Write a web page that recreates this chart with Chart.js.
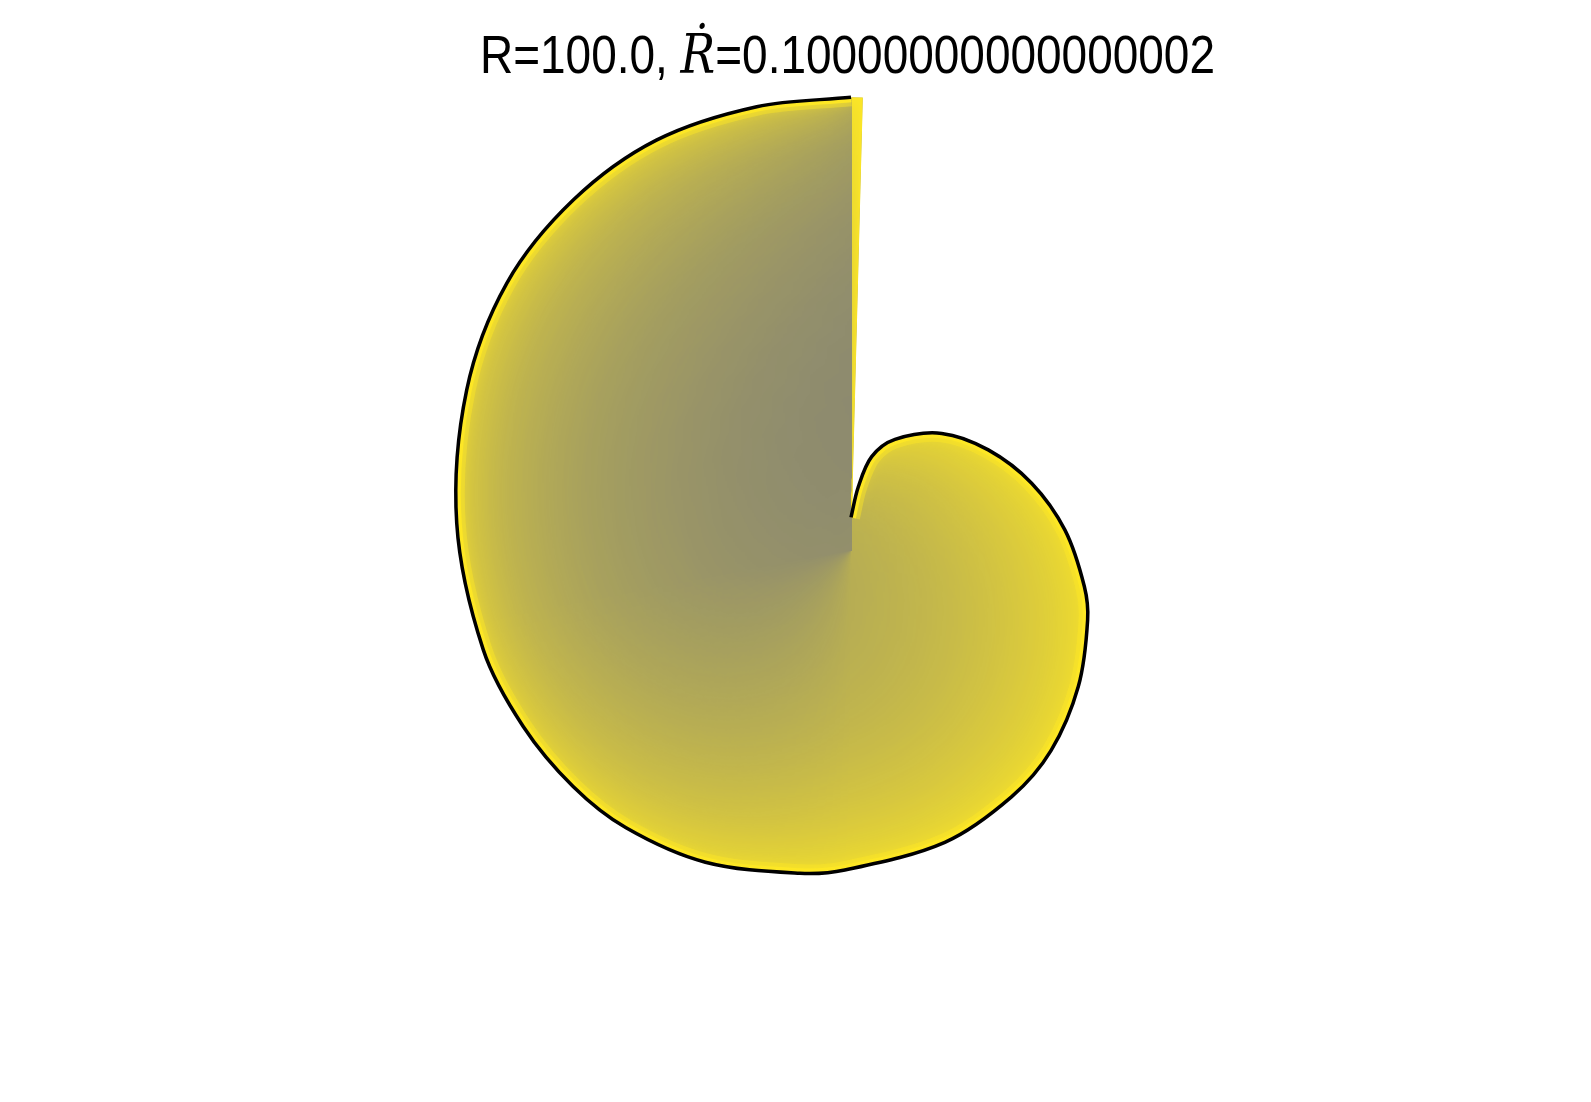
<!DOCTYPE html>
<html>
<head>
<meta charset="utf-8">
<script src="https://cdn.jsdelivr.net/npm/chart.js@4.4.0/dist/chart.umd.min.js"></script>
<style>
html,body{margin:0;padding:0;background:#ffffff;overflow:hidden}
#wrap{position:relative;width:1591px;height:1102px}
</style>
</head>
<body>
<div id="wrap"><canvas id="chart"></canvas></div>
<script>
// ---- data ----
// boundary of the shell: angle in degrees, clockwise from the top, and radius
const boundaryAngle = [0, 6.6, 12.5, 21.7, 37.9, 53.9, 69.7, 84.7, 98.9, 106.5, 121, 135.1, 146.9, 162.2, 181.1, 189, 205, 219, 229.6, 241.7, 254.8, 273.9, 292.6, 307.8, 321.6, 334.6, 348, 360];
const boundaryRadius = [7.27, 14.16, 21.24, 26.44, 32.84, 37.76, 42.80, 47.76, 52.49, 54.84, 58.93, 62.96, 65.42, 68.22, 71.11, 72.73, 76.56, 79.44, 81.09, 82.73, 84.67, 87.82, 92.51, 96.78, 99.29, 100.82, 100.71, 100.6];
// thin wedge past the end of the spiral (degrees beyond 360)
const sliverAngle = [1.5];
// title pieces
const titleParts = ['R=100.0, ', '\u1E58', '=0.10000000000000002'];

// ---- styles ----
const GRAY = [128, 128, 120];
const YELLOW = [253, 231, 37];
const UNIT = 4.5;          // pixels per data unit
const CENTER = {x: 851, y: 550};
const glowLayersA = [[2, 1], [8, 1], [25, 0.6], [60, 0.55], [150, 0.85], [260, 0.7]];
const glowLayersB = [[2, 1], [8, 1], [25, 0.6], [60, 0.5], [150, 0.6], [260, 0.45]];

const points = boundaryAngle.map((a, i) => {
  const t = a * Math.PI / 180;
  return {x: boundaryRadius[i] * Math.sin(t), y: boundaryRadius[i] * Math.cos(t)};
});

const rgb = c => `rgb(${c[0]},${c[1]},${c[2]})`;

const shellFill = {
  id: 'shellFill',
  beforeDatasetsDraw(chart) {
    const ctx = chart.ctx;
    const line = chart.getDatasetMeta(0).dataset;
    const xs = chart.scales.x, ys = chart.scales.y;
    line.updateControlPoints(chart.chartArea, 'x');
    const cx = xs.getPixelForValue(0), cy = ys.getPixelForValue(0);
    const lastR = boundaryRadius[boundaryRadius.length - 1];
    const sl = (360 + sliverAngle[0]) * Math.PI / 180;
    const sx = xs.getPixelForValue(lastR * Math.sin(sl));
    const sy = ys.getPixelForValue(lastR * Math.cos(sl));
    const innerY = ys.getPixelForValue(boundaryRadius[0]);
    const spiral = new Path2D();
    line.path(spiral);
    const shape = new Path2D();
    line.path(shape);
    shape.lineTo(sx, sy);
    shape.lineTo(cx, cy);
    shape.closePath();

    const P = 700;
    const CW = chart.width, CH = chart.height;
    const W = CW + 2 * P, H = CH + 2 * P;
    const newCanvas = (w, h) => { const c = document.createElement('canvas'); c.width = w; c.height = h; return c; };
    function makeSource(excludeQuadrant) {
      const c = newCanvas(W, H);
      const g = c.getContext('2d');
      g.fillStyle = rgb(YELLOW);
      g.fillRect(0, 0, W, H);
      g.globalCompositeOperation = 'destination-out';
      g.translate(P, P);
      g.fill(shape);
      if (excludeQuadrant) g.fillRect(cx, -P, W, cy + P);
      return c;
    }
    function glow(src, layers) {
      const c = newCanvas(CW, CH);
      const g = c.getContext('2d');
      for (const [sigma, alpha] of layers) {
        g.filter = `blur(${sigma}px)`;
        g.globalAlpha = alpha;
        g.drawImage(src, -P, -P);
      }
      return g.getImageData(0, 0, CW, CH).data;
    }
    const dA = glow(makeSource(false), glowLayersA);
    const dB = glow(makeSource(true), glowLayersB);
    // blend the two glows by angle around the centre
    const comb = newCanvas(CW, CH);
    const cg = comb.getContext('2d');
    const img = cg.createImageData(CW, CH);
    const o = img.data;
    for (let y = 0; y < CH; y++) {
      for (let x = 0; x < CW; x++) {
        const i = (y * CW + x) * 4;
        let phi = Math.atan2(x - cx, cy - y) * 180 / Math.PI;
        if (phi < 0) phi += 360;
        const w = phi < 180 ? 1 : (phi < 260 ? 1 - (phi - 180) / 80 : 0);
        o[i] = YELLOW[0]; o[i + 1] = YELLOW[1]; o[i + 2] = YELLOW[2];
        o[i + 3] = dA[i + 3] * w + dB[i + 3] * (1 - w);
      }
    }
    cg.putImageData(img, 0, 0);

    ctx.save();
    ctx.clip(shape);
    ctx.fillStyle = rgb(GRAY);
    ctx.fill(shape);
    ctx.drawImage(comb, 0, 0);
    // bright rim just inside the outline (kept off the left side of the seam near the inner end)
    const keep = new Path2D();
    keep.rect(-10, -10, CW + 20, CH + 20);
    keep.rect(cx - 40, innerY - 80, 40, cy - innerY + 120);
    ctx.clip(keep, 'evenodd');
    ctx.strokeStyle = rgb(YELLOW);
    ctx.globalAlpha = 0.45;
    ctx.lineWidth = 18;
    ctx.stroke(spiral);
    ctx.globalAlpha = 1;
    ctx.lineWidth = 10;
    ctx.stroke(spiral);
    ctx.restore();
  }
};

const titlePlugin = {
  id: 'mathTitle',
  afterDraw(chart) {
    const ctx = chart.ctx;
    const size = 54;
    const fonts = [`${size}px "Liberation Sans", Arial, sans-serif`,
                   `italic ${size}px "DejaVu Serif", "Liberation Serif", serif`,
                   `${size}px "Liberation Sans", Arial, sans-serif`];
    ctx.save();
    let total = 0;
    const widths = titleParts.map((t, i) => { ctx.font = fonts[i]; const w = ctx.measureText(t).width; total += w; return w; });
    const left = 480, right = 1215, baseline = 73;
    const k = (right - left) / total;
    ctx.translate(left, baseline);
    ctx.scale(k, 1);
    ctx.fillStyle = '#000';
    ctx.textBaseline = 'alphabetic';
    ctx.textAlign = 'left';
    let x = 0;
    titleParts.forEach((t, i) => { ctx.font = fonts[i]; ctx.fillText(t, x, 0); x += widths[i]; });
    ctx.restore();
  }
};

const canvasW = 1591, canvasH = 1102;
new Chart(document.getElementById('chart'), {
  type: 'scatter',
  data: {
    datasets: [{
      data: points,
      showLine: true,
      borderColor: '#000000',
      borderWidth: 3.5,
      pointRadius: 0,
      tension: 0.33,
      fill: false
    }]
  },
  options: {
    responsive: true,
    maintainAspectRatio: false,
    animation: false,
    layout: {padding: 0},
    plugins: {legend: {display: false}, title: {display: false}, tooltip: {enabled: false}},
    scales: {
      x: {type: 'linear', display: false, min: -CENTER.x / UNIT, max: (canvasW - CENTER.x) / UNIT},
      y: {type: 'linear', display: false, min: -(canvasH - CENTER.y) / UNIT, max: CENTER.y / UNIT}
    }
  },
  plugins: [shellFill, titlePlugin]
});
</script>
</body>
</html>
